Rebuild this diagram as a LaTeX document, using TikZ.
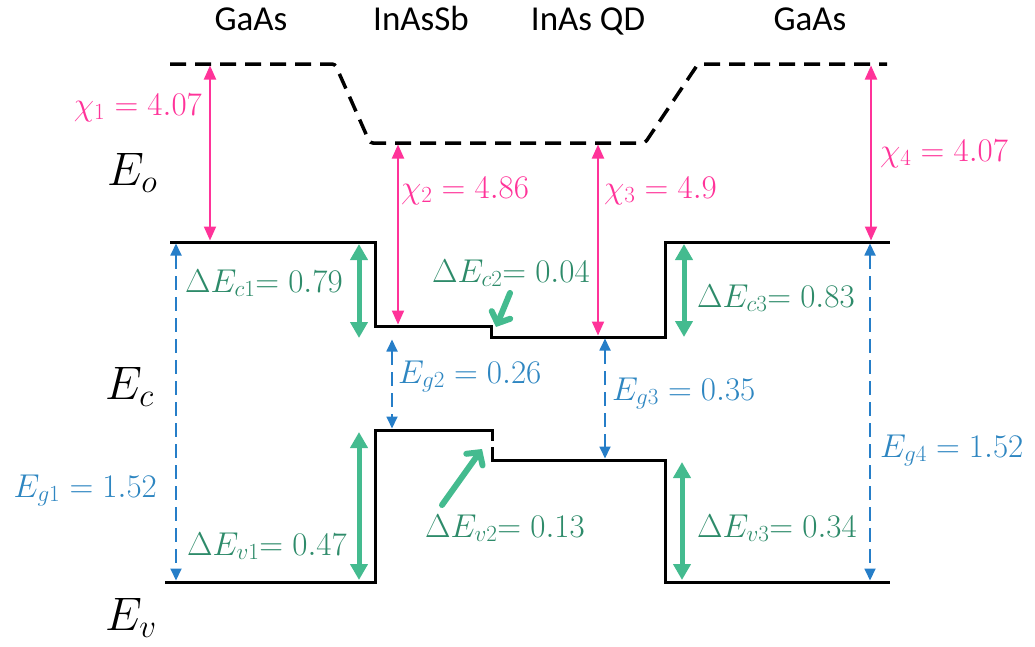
\RequirePackage{fix-cm}
\documentclass[tikz,border=0pt]{standalone}
\usepackage{fontspec}
\newfontfamily\calibri{Carlito}
\usetikzlibrary{arrows.meta}
\definecolor{cpink}{RGB}{255,51,153}
\definecolor{cblue}{RGB}{38,126,200}
\definecolor{cbluet}{RGB}{46,134,193}
\definecolor{cgreen}{RGB}{68,187,143}
\definecolor{cgreent}{RGB}{46,139,106}
\tikzset{
  band/.style={line width=3pt, draw=black},
  vac/.style={line width=3.5pt, draw=black, dash pattern=on 16pt off 9pt},
  chiarr/.style={draw=cpink, line width=2pt, {Triangle[length=14pt,width=12pt]}-{Triangle[length=14pt,width=12pt]}, shorten <=1.5pt, shorten >=1.5pt},
  egarr/.style={draw=cblue, line width=1.8pt, dash pattern=on 14pt off 7pt, {Triangle[length=12pt,width=11pt]}-{Triangle[length=12pt,width=11pt]}, shorten <=1.5pt, shorten >=1.5pt},
  dearr/.style={draw=cgreen, line width=5pt, {Triangle[length=16pt,width=17pt]}-{Triangle[length=16pt,width=17pt]}},
  ptr/.style={draw=cgreen, line width=6pt, line cap=round, -{Straight Barb[length=9pt,width=20pt,line cap=round]}},
  lbl/.style={inner sep=0pt, font=\fontsize{33}{38}\selectfont},
  big/.style={inner sep=0pt, font=\fontsize{47}{52}\selectfont},
  mat/.style={inner sep=0pt, font=\calibri\fontsize{35}{40}\selectfont},
}
\begin{document}
\begin{tikzpicture}[x=1pt,y=-1pt]
\useasboundingbox (0,0) rectangle (1035,646);
% materials
\node[mat, anchor=base] (m1) at (251,30) {GaAs};
\node[mat, anchor=base] (m2) at (421,30) {InAsSb};
\node[mat, anchor=base] (m3) at (588,30) {InAs QD};
\node[mat, anchor=base] (m4) at (810,30) {GaAs};
% level names
\node[big, anchor=base west] (eo) at (107,185) {$E_o$};
\node[big, anchor=base west] (ec) at (105,399) {$E_c$};
\node[big, anchor=base west] (ev) at (105,630) {$E_v$};
% vacuum level
\coordinate (v1) at (170,64);
\coordinate (v2) at (335,64);
\coordinate (v3) at (370,143);
\coordinate (v4) at (645,143);
\coordinate (v5) at (698,64);
\coordinate (v6) at (887,64);
\draw[vac, rounded corners=3pt] (v1) -- (v2) -- (v3) -- (v4) -- (v5) -- (v6);
% conduction band
\coordinate (c1) at (170,242);
\coordinate (c2) at (375,242);
\coordinate (c3) at (375,326);
\coordinate (c4) at (491,326);
\coordinate (c5) at (491,337);
\coordinate (c6) at (665,337);
\coordinate (c7) at (665,242);
\coordinate (c8) at (890,242);
\draw[band] (c1) -- (c2) -- (c3) -- (c4) -- (c5) -- (c6) -- (c7) -- (c8);
% valence band
\coordinate (w1) at (165,582);
\coordinate (w2) at (375,582);
\coordinate (w3) at (375,430);
\coordinate (w4) at (492,430);
\coordinate (w5) at (492,441);
\coordinate (w6) at (492,447);
\coordinate (w7) at (492,460);
\coordinate (w8) at (665,460);
\coordinate (w9) at (665,582);
\coordinate (w10) at (890,582);
\draw[band] (w1) -- (w2) -- (w3) -- (w4) -- (w5);
\draw[band] (w6) -- (w7) -- (w8) -- (w9) -- (w10);
% electron affinities
\coordinate (p1t) at (210,64);  \coordinate (p1b) at (210,242);
\coordinate (p2t) at (398,143); \coordinate (p2b) at (398,326);
\coordinate (p3t) at (598,143); \coordinate (p3b) at (598,337);
\coordinate (p4t) at (871,64);  \coordinate (p4b) at (871,242);
\draw[chiarr] (p1t) -- (p1b);
\draw[chiarr] (p2t) -- (p2b);
\draw[chiarr] (p3t) -- (p3b);
\draw[chiarr] (p4t) -- (p4b);
\node[lbl, text=cpink, anchor=base east] (x1) at (202,115) {$\chi_1 = 4.07$};
\node[lbl, text=cpink, anchor=base west] (x2) at (401,198) {$\chi_2 = 4.86$};
\node[lbl, text=cpink, anchor=base west] (x3) at (604,198) {$\chi_3 = 4.9$};
\node[lbl, text=cpink, anchor=base west] (x4) at (880,161) {$\chi_4 = 4.07$};
% band gaps
\coordinate (g1t) at (176,242); \coordinate (g1b) at (176,582);
\coordinate (g2t) at (392,338); \coordinate (g2b) at (392,430);
\coordinate (g3t) at (605,337); \coordinate (g3b) at (605,460);
\coordinate (g4t) at (870,242); \coordinate (g4b) at (870,582);
\draw[egarr] (g1t) -- (g1b);
\draw[egarr] (g2t) -- (g2b);
\draw[egarr] (g3t) -- (g3b);
\draw[egarr] (g4t) -- (g4b);
\node[lbl, text=cbluet, anchor=base east] (e1) at (157,497) {$E_{g1} = 1.52$};
\node[lbl, text=cbluet, anchor=base west] (e2) at (398,383) {$E_{g2} = 0.26$};
\node[lbl, text=cbluet, anchor=base west] (e3) at (612,400) {$E_{g3} = 0.35$};
\node[lbl, text=cbluet, anchor=base west] (e4) at (880,457) {$E_{g4} = 1.52$};
% band offsets
\coordinate (d1t) at (359,244); \coordinate (d1b) at (359,338);
\coordinate (d2t) at (359,432); \coordinate (d2b) at (359,580);
\coordinate (d3t) at (684,244); \coordinate (d3b) at (684,337);
\coordinate (d4t) at (682,462); \coordinate (d4b) at (682,580);
\draw[dearr] (d1t) -- (d1b);
\draw[dearr] (d2t) -- (d2b);
\draw[dearr] (d3t) -- (d3b);
\draw[dearr] (d4t) -- (d4b);
\coordinate (q1s) at (510,293); \coordinate (q1e) at (496,327);
\coordinate (q2s) at (442,505); \coordinate (q2e) at (482,449);
\draw[ptr] (q1s) -- (q1e);
\draw[ptr] (q2s) -- (q2e);
\node[lbl, text=cgreent, anchor=base west] (o1) at (185,292) {$\Delta E_{c1}{=}\;0.79$};
\node[lbl, text=cgreent, anchor=base west] (o2) at (432,282) {$\Delta E_{c2}{=}\;0.04$};
\node[lbl, text=cgreent, anchor=base west] (o3) at (697,307) {$\Delta E_{c3}{=}\;0.83$};
\node[lbl, text=cgreent, anchor=base west] (o4) at (187,555) {$\Delta E_{v1}{=}\;0.47$};
\node[lbl, text=cgreent, anchor=base west] (o5) at (425,537) {$\Delta E_{v2}{=}\;0.13$};
\node[lbl, text=cgreent, anchor=base west] (o6) at (697,537) {$\Delta E_{v3}{=}\;0.34$};
\end{tikzpicture}
\end{document}
